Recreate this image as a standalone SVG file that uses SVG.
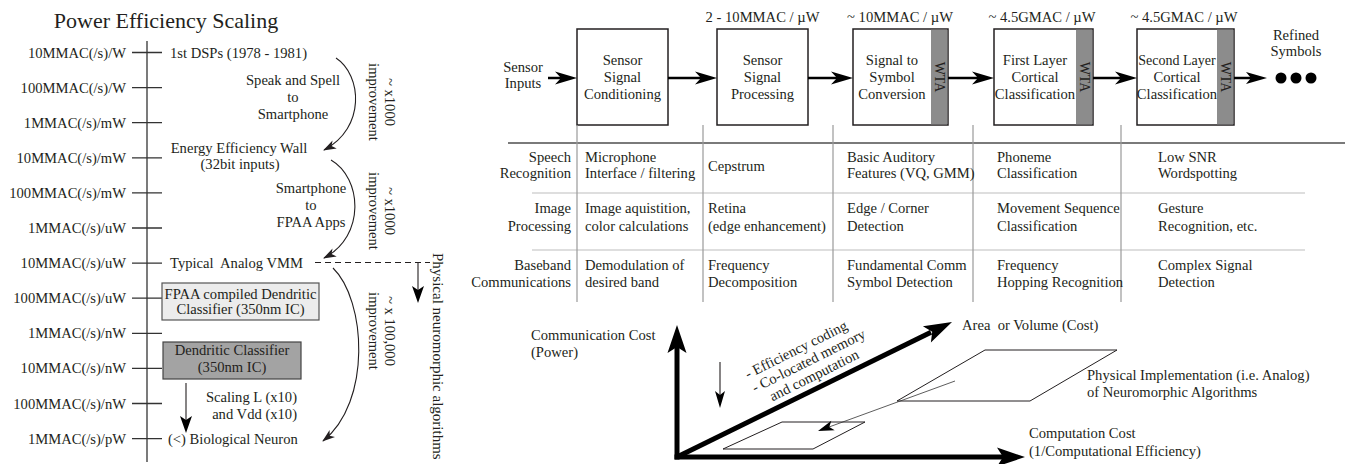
<svg xmlns="http://www.w3.org/2000/svg" width="1362" height="464" viewBox="0 0 1362 464">
<defs>
<style>
text { font-family: "Liberation Serif", "Times New Roman", serif; font-size: 14.6px; fill: #231f20; }
.m { text-anchor: middle; }
.e { text-anchor: end; }
.ax { stroke: #333; stroke-width: 1.3; fill: none; }
.box { fill: #fff; stroke: #231f20; stroke-width: 1.5; }
.wta { fill: #8c8c8c; }
.flow { stroke: #000; stroke-width: 2.5; fill: none; }
.head { fill: #000; }
.thin { stroke: #231f20; stroke-width: 1.1; fill: none; }
.thick { stroke: #000; stroke-width: 5; fill: none; }
.col { stroke: #9a9a9a; stroke-width: 1.2; }
.row { stroke: #d3d3d3; stroke-width: 1.5; }
.pg { fill: none; stroke: #231f20; stroke-width: 1; }
</style>
<marker id="ah" markerUnits="userSpaceOnUse" markerWidth="13" markerHeight="9" refX="12" refY="4.5" orient="auto" viewBox="0 0 13 9"><path d="M0,0 L13,4.5 L0,9 L3.5,4.5 z" fill="#231f20"/></marker>
</defs>
<rect width="1362" height="464" fill="#fff"/>

<g id="title"><text class="m" x="166" y="28" style="font-size:22px">Power Efficiency Scaling</text></g>

<g id="axis">
<line class="ax" x1="147" y1="41" x2="147" y2="462"/>
<path class="ax" d="M132,52.5H162M132,87.6H162M132,122.7H162M132,157.8H162M132,192.9H162M132,228H162M132,263.1H162M132,298.2H162M132,333.3H162M132,368.4H162M132,403.5H162M132,438.6H162"/>
<text class="e" x="126" y="57.5">10MMAC(/s)/W</text>
<text class="e" x="126" y="92.6">100MMAC(/s)/W</text>
<text class="e" x="126" y="127.7">1MMAC(/s)/mW</text>
<text class="e" x="126" y="162.8">10MMAC(/s)/mW</text>
<text class="e" x="126" y="197.9">100MMAC(/s)/mW</text>
<text class="e" x="126" y="233">1MMAC(/s)/uW</text>
<text class="e" x="126" y="268.1">10MMAC(/s)/uW</text>
<text class="e" x="126" y="303.2">100MMAC(/s)/uW</text>
<text class="e" x="126" y="338.3">1MMAC(/s)/nW</text>
<text class="e" x="126" y="373.4">10MMAC(/s)/nW</text>
<text class="e" x="126" y="408.5">100MMAC(/s)/nW</text>
<text class="e" x="126" y="443.6">1MMAC(/s)/pW</text>
</g>

<g id="dsps"><text x="170" y="57.5">1st DSPs (1978 - 1981)</text></g>
<g id="speak-spell"><text class="m" x="293" y="85">Speak and Spell</text><text class="m" x="293" y="102">to</text><text class="m" x="293" y="119">Smartphone</text></g>
<g id="energy-wall"><text class="m" x="239" y="153">Energy Efficiency Wall</text><text class="m" x="240" y="168.5">(32bit inputs)</text></g>
<g id="smartphone-fpaa"><text class="m" x="311" y="193">Smartphone</text><text class="m" x="311" y="210">to</text><text class="m" x="311" y="227">FPAA Apps</text></g>
<g id="analog-vmm"><text x="170" y="267.5" xml:space="preserve">Typical  Analog VMM</text></g>
<g id="fpaa-box"><rect x="162" y="283" width="157" height="37" fill="#ececec" stroke="#555" stroke-width="1.2"/><text class="m" x="240.5" y="299">FPAA compiled Dendritic</text><text class="m" x="240.5" y="314">Classifier (350nm IC)</text></g>
<g id="dendritic-box"><rect x="163" y="342" width="138" height="37" fill="#a3a3a3" stroke="#444" stroke-width="1.2"/><text class="m" x="232" y="354.5">Dendritic Classifier</text><text class="m" x="232" y="372">(350nm IC)</text></g>
<g id="scaling"><text class="e" x="297" y="402">Scaling L (x10)</text><text class="e" x="297" y="419">and Vdd (x10)</text></g>
<g id="bio-neuron"><text x="168" y="443.6">(&lt;) Biological Neuron</text></g>
<g id="improve1"><g transform="translate(385,102) rotate(90)"><text class="m" x="0" y="0">~ x1000</text><text class="m" x="0" y="16">improvement</text></g></g>
<g id="improve2"><g transform="translate(385,211) rotate(90)"><text class="m" x="0" y="0">~ x1000</text><text class="m" x="0" y="16">improvement</text></g></g>
<g id="improve3"><g transform="translate(385,331) rotate(90)"><text class="m" x="0" y="0">~ x 100,000</text><text class="m" x="0" y="16">improvement</text></g></g>
<g id="physical-neuro"><text transform="translate(433,253) rotate(90)" style="font-size:15px">Physical neuromorphic algorithms</text></g>

<g id="sensor-inputs"><text class="m" x="523" y="72">Sensor</text><text class="m" x="523" y="88">Inputs</text></g>
<g id="block1"><rect class="box" x="577" y="29" width="91" height="96"/><text class="m" x="622.5" y="65">Sensor</text><text class="m" x="622.5" y="82">Signal</text><text class="m" x="622.5" y="98.5">Conditioning</text></g>
<g id="block2"><text class="m" x="762.5" y="22">2 - 10MMAC / µW</text><rect class="box" x="717" y="29" width="91" height="96"/><text class="m" x="762.5" y="65">Sensor</text><text class="m" x="762.5" y="82">Signal</text><text class="m" x="762.5" y="98.5">Processing</text></g>
<g id="block3"><text class="m" x="900" y="22">~ 10MMAC / µW</text><rect class="box" x="853" y="29" width="95" height="96"/><rect class="wta" x="931" y="29.75" width="16.25" height="94.5"/><text class="m" x="892" y="65">Signal to</text><text class="m" x="892" y="82">Symbol</text><text class="m" x="892" y="98.5">Conversion</text><text class="m" transform="translate(934.5,77) rotate(90)" style="font-size:14px">WTA</text></g>
<g id="block4"><text class="m" x="1042" y="22">~ 4.5GMAC / µW</text><rect class="box" x="994" y="29" width="99" height="96"/><rect class="wta" x="1076" y="29.75" width="16.25" height="94.5"/><text class="m" x="1035" y="65">First Layer</text><text class="m" x="1035" y="82">Cortical</text><text class="m" x="1035" y="98.5">Classification</text><text class="m" transform="translate(1079.5,77) rotate(90)" style="font-size:14px">WTA</text></g>
<g id="block5"><text class="m" x="1184" y="22">~ 4.5GMAC / µW</text><rect class="box" x="1137" y="29" width="97" height="96"/><rect class="wta" x="1217" y="29.75" width="16.25" height="94.5"/><text class="m" x="1177" y="65" style="font-size:14px">Second Layer</text><text class="m" x="1177" y="82">Cortical</text><text class="m" x="1177" y="98.5">Classification</text><text class="m" transform="translate(1220.5,77) rotate(90)" style="font-size:14px">WTA</text></g>
<g id="refined"><text class="m" x="1296" y="40">Refined</text><text class="m" x="1296" y="56">Symbols</text><circle cx="1281" cy="78" r="5.5"/><circle cx="1296" cy="78" r="5.5"/><circle cx="1311" cy="78" r="5.5"/></g>

<g id="table">
<line x1="508" y1="143" x2="1345" y2="143" stroke="#7a7a7a" stroke-width="2"/>
<line class="row" x1="532" y1="193" x2="1305" y2="193"/>
<line class="row" x1="532" y1="250" x2="1305" y2="250"/>
<path class="col" d="M577,125V302M703,125V302M833,125V302M973,125V302M1121,125V302"/>
<text class="e" x="571" y="162">Speech</text><text class="e" x="571" y="178">Recognition</text>
<text class="e" x="571" y="213">Image</text><text class="e" x="571" y="230.5">Processing</text>
<text class="e" x="571" y="270">Baseband</text><text class="e" x="571" y="287">Communications</text>
<text x="585" y="162">Microphone</text><text x="585" y="178">Interface / filtering</text>
<text x="708" y="170.5">Cepstrum</text>
<text x="847" y="162">Basic Auditory</text><text x="847" y="178">Features (VQ, GMM)</text>
<text x="997" y="162">Phoneme</text><text x="997" y="178">Classification</text>
<text x="1158" y="162">Low SNR</text><text x="1158" y="178">Wordspotting</text>
<text x="585" y="213">Image aquistition,</text><text x="585" y="230.5">color calculations</text>
<text x="708" y="213">Retina</text><text x="708" y="230.5">(edge enhancement)</text>
<text x="847" y="213">Edge / Corner</text><text x="847" y="230.5">Detection</text>
<text x="997" y="213">Movement Sequence</text><text x="997" y="230.5">Classification</text>
<text x="1158" y="213">Gesture</text><text x="1158" y="230.5">Recognition, etc.</text>
<text x="585" y="270">Demodulation of</text><text x="585" y="287">desired band</text>
<text x="708" y="270">Frequency</text><text x="708" y="287">Decomposition</text>
<text x="847" y="270">Fundamental Comm</text><text x="847" y="287">Symbol Detection</text>
<text x="997" y="270">Frequency</text><text x="997" y="287">Hopping Recognition</text>
<text x="1158" y="270">Complex Signal</text><text x="1158" y="287">Detection</text>
</g>

<g id="comm-cost"><text x="531" y="340">Communication Cost</text><text x="531" y="357">(Power)</text></g>
<g id="area-volume"><text x="962" y="330" xml:space="preserve">Area  or Volume (Cost)</text></g>
<g id="phys-impl"><polygon class="pg" points="897,401 1030,401 1117,350 985,350"/><text x="1087" y="380">Physical Implementation (i.e. Analog)</text><text x="1087" y="397">of Neuromorphic Algorithms</text></g>
<g id="small-impl"><polygon class="pg" points="723,449 813,449 865,422 782,422"/></g>
<g id="comp-cost"><text x="1029" y="438">Computation Cost</text><text x="1029" y="456">(1/Computational Efficiency)</text></g>
<g id="efficiency-note"><g transform="translate(748,379) rotate(-26.5)"><text x="0" y="0">- Efficiency coding</text><text x="0" y="15.5">- Co-located memory</text><text x="12" y="31">and computation</text></g></g>

<g id="connectors">
<path class="thin" d="M336,58 C362,75 366,128 324,150" marker-end="url(#ah)"/>
<path class="thin" d="M331,160 C362,178 366,236 324,258" marker-end="url(#ah)"/>
<path class="thin" d="M333,268 C366,300 372,402 323,441" marker-end="url(#ah)"/>
<line x1="315" y1="262.5" x2="430" y2="262.5" stroke="#231f20" stroke-width="1.1" stroke-dasharray="6,4"/>
<line class="thin" x1="418" y1="263" x2="418" y2="292"/>
<polygon class="head" points="418,303 412,286 418,290 424,286"/>
<line class="thin" x1="186" y1="383" x2="186" y2="422"/>
<polygon class="head" points="186,433 180,416 186,420 192,416"/>

<line class="flow" x1="548" y1="78" x2="562" y2="78"/><polygon class="head" points="577,78 555,71.5 561,78 555,84.5"/>
<line class="flow" x1="668" y1="78" x2="703" y2="78"/><polygon class="head" points="717,78 695,71.5 701,78 695,84.5"/>
<line class="flow" x1="808" y1="78" x2="839" y2="78"/><polygon class="head" points="853,78 831,71.5 837,78 831,84.5"/>
<line class="flow" x1="948" y1="78" x2="980" y2="78"/><polygon class="head" points="994,78 972,71.5 978,78 972,84.5"/>
<line class="flow" x1="1093" y1="78" x2="1123" y2="78"/><polygon class="head" points="1137,78 1115,71.5 1121,78 1115,84.5"/>
<line class="flow" x1="1234" y1="78" x2="1252" y2="78"/><polygon class="head" points="1267,78 1246,72 1251,78 1246,84"/>

<line class="thick" x1="677" y1="459.5" x2="677" y2="346"/>
<polygon class="head" points="677,325 667.5,353 677,347 686.5,353"/>
<line class="thick" x1="674.5" y1="457" x2="1004" y2="457"/>
<polygon class="head" points="1025,457 997,447.5 1003,457 997,466.5"/>
<line class="thick" x1="677" y1="457" x2="931" y2="332.2"/>
<polygon class="head" points="952,322 922.9,326.2 932.2,331.7 930.9,342.4"/>
<line class="thin" x1="720" y1="362" x2="720" y2="397"/>
<polygon class="head" points="720,408 715,391 720,395 725,391"/>
<line x1="955" y1="381" x2="829" y2="427" stroke="#333" stroke-width="0.8"/>
<polygon class="head" points="818,431 834.7,430.2 829.3,426.9 831.3,420.8"/>
</g>
</svg>
